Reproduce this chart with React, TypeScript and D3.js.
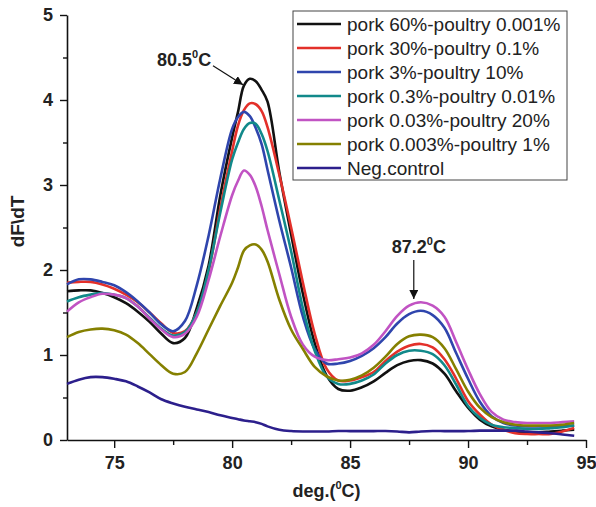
import React, { useEffect, useRef } from "react";
import * as d3 from "d3";

// melting temperature (deg C) sampled for every curve
const temps = [
  73, 73.5, 74, 74.5, 75, 75.5, 76, 76.5, 77, 77.5, 78, 78.5, 79, 79.5, 80,
  80.25, 80.5, 80.75, 81, 81.25, 81.5, 82, 82.5, 83, 83.5, 84, 84.5, 85, 85.5,
  86, 86.5, 87, 87.5, 88, 88.5, 89, 89.5, 90, 90.5, 91, 91.5, 92, 92.5, 93,
  93.5, 94, 94.5,
];

const pork60 = [
  1.75, 1.76, 1.76, 1.73, 1.68, 1.61, 1.51, 1.39, 1.25, 1.14, 1.2, 1.55, 2.05,
  2.88, 3.56, 3.86, 4.17, 4.25, 4.22, 4.12, 3.98, 3.15, 2.42, 1.72, 1.14, 0.76,
  0.6, 0.58, 0.62, 0.69, 0.79, 0.88, 0.93, 0.94, 0.9, 0.78, 0.57, 0.38, 0.24,
  0.16, 0.12, 0.1, 0.09, 0.09, 0.1, 0.11, 0.12,
];
const pork30 = [
  1.85, 1.86, 1.86, 1.83, 1.78, 1.71, 1.62, 1.5, 1.37, 1.26, 1.28, 1.5, 1.98,
  2.73, 3.4, 3.7, 3.88, 3.96, 3.95, 3.87, 3.68, 3.12, 2.5, 1.85, 1.25, 0.84,
  0.7, 0.7, 0.74, 0.8, 0.93, 1.04, 1.11, 1.13, 1.09, 0.95, 0.72, 0.46, 0.3,
  0.18, 0.12, 0.08, 0.07, 0.07, 0.07, 0.1, 0.14,
];
const pork3 = [
  1.83, 1.89, 1.89, 1.86, 1.82, 1.74, 1.63, 1.5, 1.36, 1.28, 1.4, 1.82, 2.4,
  3.08, 3.66, 3.8, 3.86, 3.81, 3.67, 3.48, 3.18, 2.58, 2.03, 1.45, 1.07, 0.9,
  0.9, 0.93, 0.99, 1.08, 1.21, 1.37, 1.48, 1.52, 1.47, 1.32, 1.02, 0.72, 0.45,
  0.28, 0.2, 0.17, 0.16, 0.16, 0.16, 0.16, 0.17,
];
const pork03 = [
  1.63, 1.68, 1.71, 1.73, 1.71, 1.67, 1.57, 1.44, 1.31, 1.23, 1.27, 1.5, 2.0,
  2.68, 3.3, 3.5, 3.66, 3.73, 3.72, 3.6, 3.4, 2.82, 2.22, 1.55, 1.05, 0.75,
  0.66, 0.66, 0.7, 0.77, 0.9, 1.0, 1.05, 1.05, 1.01, 0.88, 0.65, 0.4, 0.26,
  0.18, 0.15, 0.14, 0.13, 0.13, 0.14, 0.15, 0.17,
];
const pork003 = [
  1.51, 1.62, 1.68, 1.72, 1.71, 1.67, 1.57, 1.43, 1.3, 1.21, 1.25, 1.45, 1.88,
  2.4, 2.88, 3.05, 3.17, 3.12, 2.98, 2.75, 2.47, 1.95, 1.45, 1.12, 0.98, 0.94,
  0.95, 0.97, 1.02, 1.12, 1.28, 1.46, 1.58, 1.62, 1.58, 1.45, 1.15, 0.83, 0.54,
  0.33, 0.24, 0.21, 0.2, 0.2, 0.2, 0.21, 0.22,
];
const pork0003 = [
  1.21, 1.27, 1.3, 1.31, 1.29, 1.24, 1.14, 1.01, 0.88, 0.78, 0.8, 1.02, 1.3,
  1.58, 1.85, 2.03, 2.23, 2.29, 2.3, 2.24, 2.1, 1.65, 1.3, 1.07, 0.86, 0.75,
  0.7, 0.71, 0.76, 0.85, 0.98, 1.13, 1.22, 1.24, 1.21, 1.08, 0.83, 0.57, 0.38,
  0.27, 0.21, 0.18, 0.17, 0.17, 0.17, 0.18, 0.2,
];
const negControl = [
  0.66, 0.71, 0.74, 0.74, 0.72, 0.69, 0.63, 0.56, 0.48, 0.43, 0.39, 0.36, 0.33,
  0.29, 0.26, 0.245, 0.23, 0.22, 0.21, 0.19, 0.16, 0.12, 0.105, 0.1, 0.1, 0.1,
  0.105, 0.105, 0.105, 0.105, 0.105, 0.1, 0.09, 0.1, 0.105, 0.105, 0.105, 0.105,
  0.11, 0.11, 0.11, 0.11, 0.1, 0.09, 0.08, 0.065, 0.05,
];

const seriesNames = [
  "pork 60%-poultry 0.001%",
  "pork 30%-poultry 0.1%",
  "pork 3%-poultry 10%",
  "pork 0.3%-poultry 0.01%",
  "pork 0.03%-poultry 20%",
  "pork 0.003%-poultry 1%",
  "Neg.control",
];
const seriesValues = [pork60, pork30, pork3, pork03, pork003, pork0003, negControl];
const seriesColors = ["#111111", "#e3302a", "#2f45ad", "#11898a", "#c153c3", "#858000", "#2c1f8c"];

const xTicks = [75, 80, 85, 90, 95];
const xMinor = [77.5, 82.5, 87.5, 92.5];
const yTicks = [0, 1, 2, 3, 4, 5];
const yMinor = [0.5, 1.5, 2.5, 3.5, 4.5];

// peak annotations: label, arrow tip (temp, value)
const peakLabels = ["80.5", "87.2"];
const peakTemps = [80.46, 87.7];
const peakValues = [4.18, 1.66];

const font = "'Liberation Sans', Arial, Helvetica, sans-serif";

const App = () => {
  const svgRef = useRef<SVGSVGElement>(null);

  useEffect(() => {
    const width = 596;
    const height = 507;
    const margin = { top: 15, right: 10, bottom: 67, left: 67 };

    const svg = d3.select(svgRef.current);
    svg.selectAll("*").remove();

    const x = d3.scaleLinear().domain([73, 95]).range([margin.left, width - margin.right]);
    const y = d3.scaleLinear().domain([0, 5]).range([height - margin.bottom, margin.top]);

    // axes
    const styleAxis = (g) => {
      g.selectAll("path").attr("stroke", "#111").attr("stroke-width", 1.6);
      g.selectAll("line").attr("stroke", "#111").attr("stroke-width", 1.4);
      g.selectAll("text")
        .attr("font-family", font)
        .attr("font-weight", "bold")
        .attr("font-size", 18)
        .attr("fill", "#222");
    };

    svg
      .append("g")
      .attr("transform", `translate(0,${y(0)})`)
      .call(d3.axisBottom(x).tickValues(xMinor).tickSize(5).tickFormat(() => ""))
      .call((g) => g.select(".domain").remove())
      .call(styleAxis);
    svg
      .append("g")
      .attr("transform", `translate(0,${y(0)})`)
      .call(
        d3.axisBottom(x).tickValues(xTicks).tickSize(8).tickSizeOuter(0).tickPadding(8).tickFormat(d3.format("d"))
      )
      .call(styleAxis);

    svg
      .append("g")
      .attr("transform", `translate(${x(73)},0)`)
      .call(d3.axisLeft(y).tickValues(yMinor).tickSize(4).tickFormat(() => ""))
      .call((g) => g.select(".domain").remove())
      .call(styleAxis);
    svg
      .append("g")
      .attr("transform", `translate(${x(73)},0)`)
      .call(
        d3.axisLeft(y).tickValues(yTicks).tickSize(7).tickSizeOuter(0).tickPadding(7).tickFormat(d3.format("d"))
      )
      .call(styleAxis);

    // axis titles
    svg
      .append("text")
      .attr("transform", `translate(24,${(y(0) + y(5)) / 2 - 6}) rotate(-90)`)
      .attr("text-anchor", "middle")
      .attr("font-family", font)
      .attr("font-weight", "bold")
      .attr("font-size", 19)
      .attr("fill", "#222")
      .text("dF\\dT");

    const xt = svg
      .append("text")
      .attr("x", (x(73) + x(95)) / 2)
      .attr("y", 497)
      .attr("text-anchor", "middle")
      .attr("font-family", font)
      .attr("font-weight", "bold")
      .attr("font-size", 18)
      .attr("fill", "#222");
    xt.append("tspan").text("deg.(");
    xt.append("tspan").attr("font-size", 11).attr("dy", -8).text("0");
    xt.append("tspan").attr("dy", 8).text("C)");

    // curves
    const line = d3
      .line<number>()
      .x((d, i) => x(temps[i]))
      .y((d) => y(d))
      .curve(d3.curveCatmullRom.alpha(0.5));

    seriesValues.forEach((vals, k) => {
      svg
        .append("path")
        .attr("d", line(vals))
        .attr("fill", "none")
        .attr("stroke", seriesColors[k])
        .attr("stroke-width", 2.6)
        .attr("stroke-linejoin", "round");
    });

    // arrow marker
    svg
      .append("defs")
      .append("marker")
      .attr("id", "arrowhead")
      .attr("viewBox", "0 0 10 10")
      .attr("refX", 10)
      .attr("refY", 5)
      .attr("markerWidth", 9)
      .attr("markerHeight", 9)
      .attr("markerUnits", "userSpaceOnUse")
      .attr("orient", "auto")
      .append("path")
      .attr("d", "M0,0 L10,5 L0,10 Z")
      .attr("fill", "#111");

    // peak annotations
    const labelOffsets = [
      { tx: -86, ty: -19, sx: -30, sy: -19 },
      { tx: -22, ty: -46, sx: 0, sy: -39 },
    ];
    peakLabels.forEach((lab, i) => {
      const px = x(peakTemps[i]);
      const py = y(peakValues[i]);
      const o = labelOffsets[i];
      svg
        .append("line")
        .attr("x1", px + o.sx)
        .attr("y1", py + o.sy)
        .attr("x2", px)
        .attr("y2", py)
        .attr("stroke", "#111")
        .attr("stroke-width", 1.2)
        .attr("marker-end", "url(#arrowhead)");
      const t = svg
        .append("text")
        .attr("x", px + o.tx)
        .attr("y", py + o.ty)
        .attr("font-family", font)
        .attr("font-weight", "bold")
        .attr("font-size", 18)
        .attr("fill", "#222");
      t.append("tspan").text(lab);
      t.append("tspan").attr("font-size", 11).attr("dy", -8).text("0");
      t.append("tspan").attr("dy", 8).text("C");
    });

    // legend
    const legend = svg.append("g").attr("transform", "translate(293,11)");
    legend
      .append("rect")
      .attr("width", 274)
      .attr("height", 169)
      .attr("fill", "white")
      .attr("stroke", "#444")
      .attr("stroke-width", 1);
    seriesNames.forEach((name, i) => {
      const ly = 13 + i * 24;
      legend
        .append("line")
        .attr("x1", 4)
        .attr("x2", 48)
        .attr("y1", ly)
        .attr("y2", ly)
        .attr("stroke", seriesColors[i])
        .attr("stroke-width", 2.6);
      legend
        .append("text")
        .attr("x", 54)
        .attr("y", ly + 7)
        .attr("font-family", font)
        .attr("font-size", 19)
        .attr("fill", "#222")
        .text(name);
    });
  }, []);

  return (
    <svg
      ref={svgRef}
      width={596}
      height={507}
      style={{ position: "absolute", left: 0, top: 0, background: "white" }}
    />
  );
};

export default App;
